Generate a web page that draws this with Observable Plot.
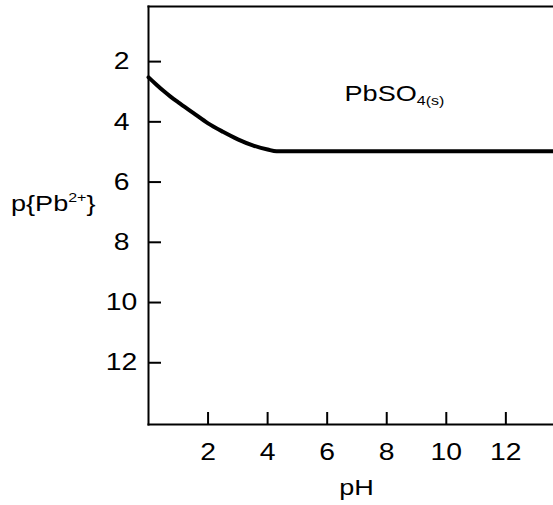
<!DOCTYPE html>
<html><head><meta charset="utf-8">
<script src="https://cdn.jsdelivr.net/npm/d3@7"></script>
<script src="https://cdn.jsdelivr.net/npm/@observablehq/plot@0.6"></script>
<style>body{margin:0;background:#fff} svg{display:block}</style>
</head><body><div id="chart"></div>
<script>
const pH  = [0, 0.25, 0.5, 0.75, 1, 1.5, 2, 2.5, 3, 3.5, 4, 4.3, 6, 8, 10, 12, 13.6];
const pPb = [2.52, 2.75, 2.97, 3.17, 3.35, 3.70, 4.05, 4.33, 4.58, 4.78, 4.92, 4.98, 4.98, 4.98, 4.98, 4.98, 4.98];
const xTicks = [2, 4, 6, 8, 10, 12];
const yTicks = [2, 4, 6, 8, 10, 12];
const xLabel = "pH";
const yLabelParts = ["p{Pb", "2+", "}"];
const regionLabelParts = ["PbSO", "4(s)"];

const W = 553, H = 505, mL = 148, mT = 6, mB = 81, mR = 0;
const frameW = W - mL - mR, frameH = H - mT - mB;
const font = "'Liberation Sans', Arial, Helvetica, sans-serif";
const stretch = 1.18; // reference glyphs are horizontally wider than Arial
const data = pH.map((x, i) => ({pH: x, p: pPb[i]}));

const plot = Plot.plot({
  width: W, height: H,
  marginLeft: mL, marginTop: mT, marginBottom: mB, marginRight: mR,
  style: {fontFamily: font, fontSize: "24px", color: "#000", background: "#fff"},
  x: {domain: [0, 13.6]},
  y: {domain: [0.17, 14.05], reverse: true},
  marks: [
    Plot.axisX(xTicks, {tickSize: 0, tickPadding: 18, fontSize: 24, label: null}),
    Plot.axisY(yTicks, {tickSize: 0, tickPadding: 27, fontSize: 24, textAnchor: "middle", label: null}),
    Plot.tickX(xTicks, {x: d => d, insetTop: frameH - 12, strokeWidth: 2}),
    Plot.tickY(yTicks, {y: d => d, insetRight: frameW - 13, strokeWidth: 2}),
    Plot.frame({anchor: "left", strokeWidth: 2}),
    Plot.frame({anchor: "top", strokeWidth: 2}),
    Plot.frame({anchor: "bottom", strokeWidth: 2}),
    Plot.line(data, {x: "pH", y: "p", strokeWidth: 4, stroke: "#000", curve: "monotone-x"})
  ]
});
document.getElementById("chart").append(plot);

const svg = d3.select(plot);
const xs = plot.scale("x"), ys = plot.scale("y");

// widen tick label glyphs around their anchor point
svg.selectAll('g[aria-label="x-axis tick label"] text, g[aria-label="y-axis tick label"] text').each(function() {
  const t = d3.select(this);
  const tr = t.attr("transform");
  if (tr) t.attr("transform", tr + ` scale(${stretch},1)`);
  else {
    const x = +t.attr("x") || 0, y = +t.attr("y") || 0;
    t.attr("transform", `translate(${x},${y}) scale(${stretch},1) translate(${-x},${-y})`);
  }
});

function addText(x, y, size) {
  return svg.append("text")
    .attr("transform", `translate(${x},${y}) scale(${stretch + 0.05},1)`)
    .attr("text-anchor", "start")
    .attr("font-family", font).attr("font-size", size).attr("fill", "#000");
}

// y-axis label p{Pb2+}
const yl = addText(11, 211, 22);
yl.append("tspan").text(yLabelParts[0]);
yl.append("tspan").attr("font-size", 13).attr("dy", -9).text(yLabelParts[1]);
yl.append("tspan").attr("dy", 9).text(yLabelParts[2]);

// x-axis label
addText(xs.apply(7), 495, 22).attr("text-anchor", "middle").text(xLabel);

// region label PbSO4(s)
const rl = addText(xs.apply(6.6), ys.apply(3.33), 22);
rl.append("tspan").text(regionLabelParts[0]);
rl.append("tspan").attr("font-size", 13).attr("dy", 4).text(regionLabelParts[1]);
</script>
</body></html>
